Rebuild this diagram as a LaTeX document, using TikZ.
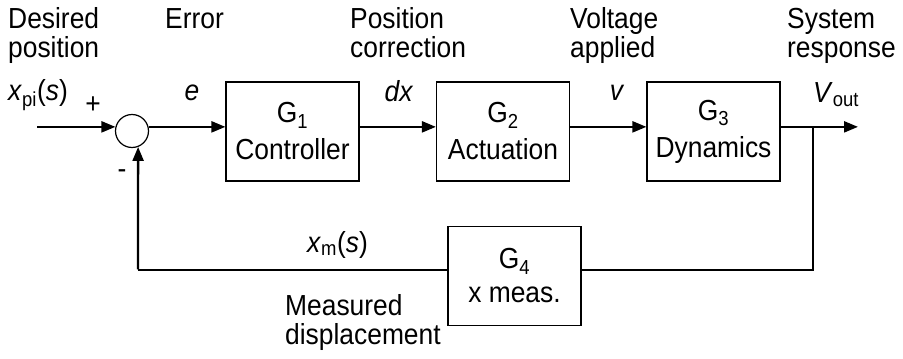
\documentclass[tikz,border=0pt]{standalone}
\usepackage{fontspec}
\setmainfont{Liberation Sans}[FakeStretch=0.91]
\usetikzlibrary{arrows.meta}
\begin{document}
\begin{tikzpicture}[x=1pt,y=-1pt,
  every node/.style={font=\fontsize{29}{33}\selectfont, inner sep=0pt},
  blk/.style={draw, line width=1.2pt, minimum width=133pt, minimum height=99pt, align=center},
  sumnode/.style={draw, circle, line width=1.2pt, minimum size=33pt},
  thickarrow/.style={line width=2.3pt, -{Triangle[length=14pt,width=11pt]}},
  thinline/.style={line width=1.3pt},
  lbl/.style={anchor=base west}
]
\useasboundingbox (0,0) rectangle (903,359);

% blocks
\node[sumnode] (sum) at (132,131) {};
\node[blk] (g1) at (292.5,131.5) {G\textsubscript{1}\\[4pt]Controller};
\node[blk] (g2) at (503,131.5) {G\textsubscript{2}\\[4pt]Actuation};
\node[blk] (g3) at (713.5,131.5) {G\textsubscript{3}\\[4pt]Dynamics};
\node[blk] (g4) at (514.5,276) {G\textsubscript{4}\\[1pt]x meas.};

% coordinates
\coordinate (inp) at (37,127);
\coordinate (outp) at (858,127);
\coordinate (tap) at (813,127);
\coordinate (fbr) at (813,270);
\coordinate (fbl) at (138,270);

% forward path
\draw[thickarrow] (inp |- sum.166) -- (sum.166);
\draw[thickarrow] (sum.14) -- (g1.west |- sum.14);
\draw[thickarrow] (g1.east |- sum.14) -- (g2.west |- sum.14);
\draw[thickarrow] (g2.east |- sum.14) -- (g3.west |- sum.14);
\draw[thickarrow] (g3.east |- sum.14) -- (outp |- sum.14);

% feedback
\draw[thinline] (tap |- sum.14) -- (fbr) -- (g4.east |- fbr);
\draw[thinline] (g4.west |- fbr) -- (fbl);
\draw[thickarrow] ([yshift=0.6pt]fbl) -- (sum.-69);

% labels top
\node[lbl] (l1) at (8,28) {\begin{tabular}[t]{@{}l@{}}Desired\\[-4pt]position\end{tabular}};
\node[lbl] (l2) at (165,28) {Error};
\node[lbl] (l3) at (350,28) {\begin{tabular}[t]{@{}l@{}}Position\\[-4pt]correction\end{tabular}};
\node[lbl] (l4) at (570,28) {\begin{tabular}[t]{@{}l@{}}Voltage\\[-4pt]applied\end{tabular}};
\node[lbl] (l5) at (787,28) {\begin{tabular}[t]{@{}l@{}}System\\[-4pt]response\end{tabular}};

% signal labels
\node[lbl] (xpi) at (8,100) {\textit{x}\textsubscript{pi}(\textit{s})};
\node (plus) at (93,105) {+};
\node[anchor=base] (e) at (192,100) {\textit{e}};
\node[anchor=base] (dx) at (399,101) {\textit{dx}};
\node[anchor=base] (v) at (617,100) {\textit{v}};
\node[lbl] (vout) at (813,102) {\textit{V}\textsubscript{out}};
\node (minus) at (122,174) {-};
\node[lbl] (xm) at (307,252) {\textit{x}\textsubscript{m}(\textit{s})};
\node[lbl] (meas) at (285,315) {\begin{tabular}[t]{@{}l@{}}Measured\\[-4pt]displacement\end{tabular}};
\end{tikzpicture}
\end{document}
